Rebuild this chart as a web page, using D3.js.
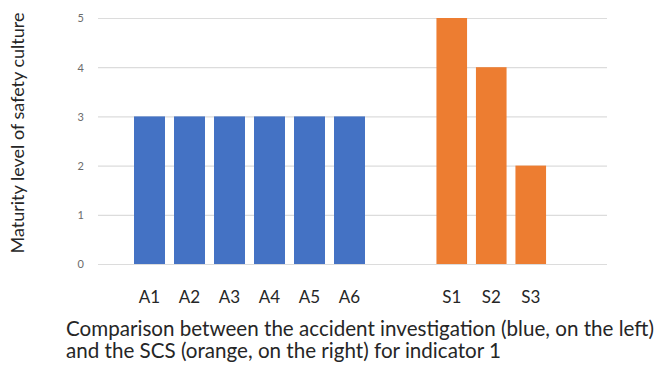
<!DOCTYPE html>
<html>
<head>
<meta charset="utf-8">
<script src="https://cdn.jsdelivr.net/npm/d3@7"></script>
<style>
  html, body { margin: 0; padding: 0; background: #fff; }
  svg { display: block; }
</style>
</head>
<body>
<svg id="chart" width="665" height="376"></svg>
<script>
// Maturity levels per source: accident investigation (A) and SCS (S)
const investigationCats = ["A1", "A2", "A3", "A4", "A5", "A6"];
const investigationVals = [3, 3, 3, 3, 3, 3];
const scsCats = ["S1", "S2", "S3"];
const scsVals = [5, 4, 2];
const yTicks = [0, 1, 2, 3, 4, 5];
const yTitle = "Maturity level of safety culture";
const captionLines = [
  "Comparison between the accident investigation (blue, on the left)",
  "and the SCS (orange, on the right) for indicator 1"
];

const W = 665, H = 376;
const plot = { left: 98, right: 607, top: 18, bottom: 264 };
const font = "Lato, 'Open Sans', sans-serif";

const svg = d3.select("#chart");

const y = d3.scaleLinear().domain([0, 5]).range([plot.bottom, plot.top]);

// Two groups of bars with a wider gap between them
const inner = 9 / 40;
const xA = d3.scaleBand().domain(investigationCats)
  .range([129.5, 369.5]).paddingInner(inner).paddingOuter(inner / 2);
const xS = d3.scaleBand().domain(scsCats)
  .range([432, 550.5]).paddingInner(inner).paddingOuter(inner / 2);

// Horizontal gridlines
svg.append("g")
  .selectAll("line")
  .data(yTicks)
  .join("line")
  .attr("x1", plot.left).attr("x2", plot.right)
  .attr("y1", d => y(d) + 0.5).attr("y2", d => y(d) + 0.5)
  .attr("stroke", "#dcdcdc").attr("stroke-width", 1.2);

// Y axis tick labels
const yAxis = d3.axisLeft(y).tickValues(yTicks).tickFormat(d3.format("d"))
  .tickSize(0).tickPadding(0);
const gy = svg.append("g").attr("transform", `translate(${plot.left - 14},0)`).call(yAxis);
gy.select(".domain").remove();
gy.selectAll("text")
  .attr("font-family", font).attr("font-size", 11)
  .attr("fill", "#6b6b6b").attr("dy", "0.35em");

// Bars
function drawBars(cats, vals, scale, color) {
  svg.append("g")
    .selectAll("rect")
    .data(cats.map((c, i) => ({ c, v: vals[i] })))
    .join("rect")
    .attr("x", d => scale(d.c))
    .attr("width", scale.bandwidth())
    .attr("y", d => y(d.v))
    .attr("height", d => y(0) - y(d.v))
    .attr("fill", color);
}
drawBars(investigationCats, investigationVals, xA, "#4472c4");
drawBars(scsCats, scsVals, xS, "#ed7d31");

// Category labels
function drawLabels(cats, scale) {
  const ax = d3.axisBottom(scale).tickSize(0).tickPadding(0);
  const g = svg.append("g").attr("transform", `translate(0,${plot.bottom + 27})`).call(ax);
  g.select(".domain").remove();
  g.selectAll("text")
    .attr("font-family", font).attr("font-size", 17)
    .attr("fill", "#262626").attr("dy", "0.71em");
}
drawLabels(investigationCats, xA);
drawLabels(scsCats, xS);

// Y axis title
svg.append("text")
  .attr("transform", "translate(24,133) rotate(-90)")
  .attr("text-anchor", "middle")
  .attr("font-family", font).attr("font-size", 18)
  .attr("fill", "#262626")
  .text(yTitle);

// Caption below the chart
svg.append("g")
  .selectAll("text")
  .data(captionLines)
  .join("text")
  .attr("x", 66)
  .attr("y", (d, i) => 336 + i * 22)
  .attr("font-family", font).attr("font-size", 20.6)
  .attr("fill", "#262626")
  .text(d => d);
</script>
</body>
</html>
